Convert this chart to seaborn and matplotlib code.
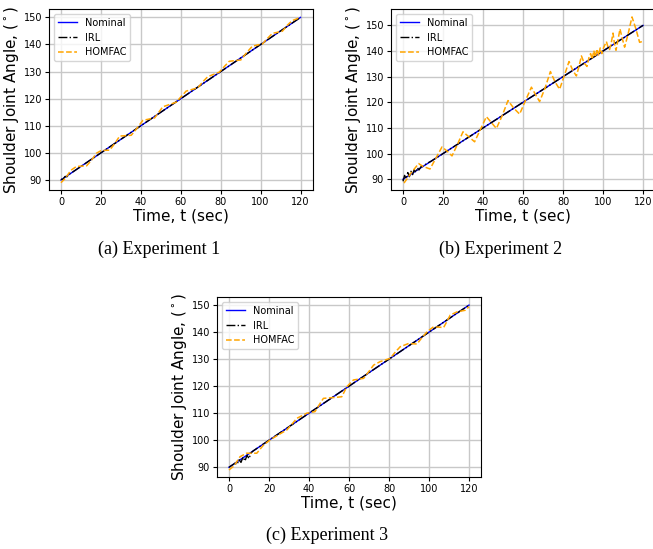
import matplotlib
matplotlib.use("Agg")
import matplotlib.pyplot as plt
import seaborn as sns

# Nominal trajectory (same for all experiments)
NOM_T = [0, 120]
NOM_V = [90, 150]

# Experiment 1
IRL1_T = [0, 1, 2, 3, 4, 6, 10, 120]
IRL1_V = [90.3, 90.2, 91.3, 91.2, 92.1, 93.0, 95.0, 150.0]
HOM1_T = [0, 2, 5, 7.8, 12.8, 15.5, 17.8, 20.3, 24.4, 27, 29.4, 35.2, 38, 41, 46.9, 49,
          51, 57.7, 60.5, 62.7, 68.5, 71, 73.5, 79.3, 82, 84.3, 90.1, 93, 95.9, 100.9,
          103.5, 105.9, 110.9, 113.5, 115.8, 120]
HOM1_V = [89.0, 90.5, 93.6, 95.0, 95.2, 97.5, 99.9, 100.9, 101.0, 103.5, 106.2, 106.5,
          109.0, 112.0, 112.9, 115.0, 117.0, 118.7, 121.0, 122.8, 124.0, 126.2, 128.1,
          129.8, 132.0, 133.8, 134.3, 137.0, 139.4, 140.2, 142.3, 144.1, 144.9, 147.2,
          148.8, 150.0]

# Experiment 2
IRL2_T = [0, 0.8, 1.6, 2.4, 3.2, 4, 4.8, 5.6, 6.4, 7.2, 8, 9, 10, 12, 14, 120]
IRL2_V = [89.2, 91.5, 90.2, 92.6, 91.0, 93.1, 91.8, 93.8, 92.6, 94.5, 93.6, 94.9,
          95.0, 96.2, 97.0, 150.0]
HOM2_T = [0.5, 4, 7.8, 10, 13.5, 16.5, 19.5, 22, 24.5, 27.3, 30, 33, 35.8, 38.7, 41.7,
          44.2, 46.7, 49.6, 52.5, 55.4, 58.3, 61.2, 64.2, 66.2, 68.3, 71, 73.7, 76, 78.3,
          80.6, 83, 84.9, 86.7, 88, 89.2, 90.6, 92, 93, 93.8, 94.6, 95.4, 96.2, 97, 97.8,
          98.6, 99.4, 100.4, 101.7, 102.5, 103.3, 104.2, 105, 105.7, 106.5, 107.4, 108.5,
          109.6, 110.8, 112.5, 114.5, 116.5, 118.3, 120]
HOM2_V = [88.5, 92.4, 96.1, 95.0, 94.0, 98.3, 102.6, 101.0, 99.1, 103.7, 108.5, 106.5,
          104.6, 109.4, 114.4, 112.1, 109.8, 114.8, 120.7, 117.7, 115.4, 120.6, 125.9,
          123.1, 120.3, 125.5, 132.0, 128.0, 125.1, 130.3, 135.9, 132.4, 130.3, 134.0,
          138.1, 135.3, 134.0, 137.5, 139.0, 136.8, 140.2, 137.6, 140.8, 138.2, 141.2,
          139.0, 141.5, 143.7, 141.5, 140.6, 143.5, 147.0, 143.0, 140.3, 144.0, 148.6,
          145.0, 141.5, 146.5, 153.3, 148.5, 143.4, 143.8]

# Experiment 3
IRL3_T = [0, 2, 3, 4, 5, 6, 7, 8, 9, 10, 11, 12, 14, 120]
IRL3_V = [90.0, 91.0, 91.5, 91.0, 92.8, 91.8, 93.8, 92.3, 94.5, 93.2, 95.3, 96.0, 97.0, 150.0]
HOM3_T = [0, 2.5, 5.5, 8.8, 13.9, 17, 20.5, 24.7, 28.9, 31.5, 33.9, 38.9, 43, 45, 47.2,
          53.9, 56.4, 58.9, 62.2, 67.3, 70, 72.3, 75.6, 80.6, 83, 85.6, 89.8, 94, 96.5,
          99, 102.3, 107.3, 109, 110.6, 114, 118.2, 120]
HOM3_V = [89.0, 90.5, 93.9, 95.2, 95.2, 98.0, 100.1, 102.0, 103.8, 106.0, 108.1, 110.0,
          110.6, 113.0, 115.5, 115.9, 116.1, 119.8, 122.3, 122.9, 125.5, 127.8, 129.1,
          130.3, 132.5, 134.6, 135.8, 135.6, 138.0, 140.1, 142.0, 141.7, 144.0, 146.3,
          147.5, 148.1, 149.4]

W, H = 653, 549
fig = plt.figure(figsize=(W / 100, H / 100), dpi=100)


def draw(rect, irl_t, irl_v, hom_t, hom_v, ylim):
    ax = fig.add_axes(rect)
    sns.lineplot(x=NOM_T, y=NOM_V, ax=ax, color="blue", lw=1.0, label="Nominal",
                 estimator=None, sort=False)
    sns.lineplot(x=irl_t, y=irl_v, ax=ax, color="black", lw=1.0, linestyle="-.",
                 label="IRL", estimator=None, sort=False)
    sns.lineplot(x=hom_t, y=hom_v, ax=ax, color="orange", lw=1.1, linestyle="--",
                 label="HOMFAC", estimator=None, sort=False)
    ax.set_xlim(-6, 126)
    ax.set_ylim(*ylim)
    ax.set_xticks([0, 20, 40, 60, 80, 100, 120])
    ax.set_yticks([90, 100, 110, 120, 130, 140, 150])
    ax.tick_params(labelsize=7, length=3, pad=2)
    ax.grid(True, color="#c8c8c8", lw=1.0)
    ax.set_axisbelow(True)
    ax.set_xlabel("Time, t (sec)", fontsize=11, labelpad=1)
    ax.set_ylabel(r"Shoulder Joint Angle, $(^\circ)$", fontsize=11, labelpad=2)
    ax.legend(loc="upper left", fontsize=7)
    return ax


draw([49 / W, 1 - 190 / H, 263.5 / W, 181 / H], IRL1_T, IRL1_V, HOM1_T, HOM1_V, (86.3, 153.1))
draw([391 / W, 1 - 190 / H, 264 / W, 181 / H], IRL2_T, IRL2_V, HOM2_T, HOM2_V, (85.8, 156.4))
draw([217 / W, 1 - 477 / H, 264 / W, 180 / H], IRL3_T, IRL3_V, HOM3_T, HOM3_V, (86.4, 153.0))

cap = dict(fontsize=13, family="Liberation Serif", ha="center", va="center")
fig.text(158.7 / W, 1 - 249 / H, "(a) Experiment 1", **cap)
fig.text(500.8 / W, 1 - 249 / H, "(b) Experiment 2", **cap)
fig.text(327 / W, 1 - 535 / H, "(c) Experiment 3", **cap)

fig.savefig("out.png", dpi=100)
